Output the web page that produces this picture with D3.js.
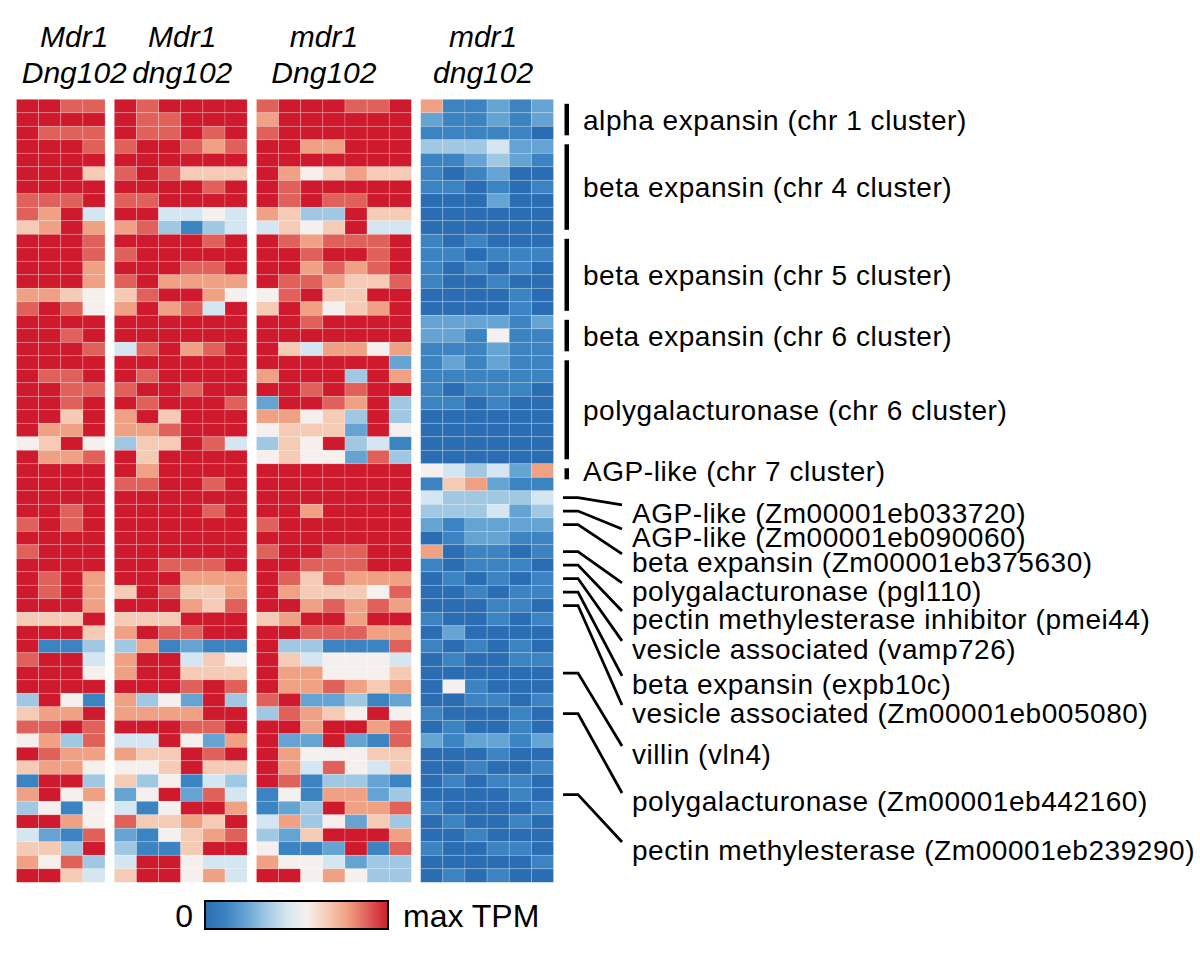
<!DOCTYPE html>
<html>
<head>
<meta charset="utf-8">
<script src="https://cdn.jsdelivr.net/npm/d3@7"></script>
<style>
  body { margin: 0; background: #fff; }
  svg text { font-family: "Liberation Sans", Arial, sans-serif; fill: #000; }
</style>
</head>
<body>
<div id="chart"></div>
<script>
// column group headers (genotype)
const groupTop = ["Mdr1", "Mdr1", "mdr1", "mdr1"];
const groupBottom = ["Dng102", "dng102", "Dng102", "dng102"];

// expression per cell, one string per gene row, one digit per replicate
// 0 = low (blue) ... 9 = max TPM (red)
const mdr1Dng102 = [
  "9988","9999","9888","9998","9999","9996","9999","8889","8794","6797",
  "9998","9998","9997","9997","7765","8985","9999","9989","9998","9999",
  "9889","9988","9989","9969","9779","5695","9778","9999","9999","9999",
  "9989","8989","9999","8999","9999","9897","9897","9997","6669","9996",
  "9113","8994","9995","9999","3951","6779","8898","5738","9877","6775",
  "1993","7957","3515","9975","4218","6639","7583","9964"
];
const mdr1dng102 = [
  "989999","988999","988989","899878","999999","898666","999989","889999","994454","783134",
  "999989","899999","999889","897777","689975","797849","999999","999999","489789","999999",
  "989999","899899","989998","796999","778999","366984","969999","979999","889989","999999",
  "999989","999999","999999","999999","998889","999777","698667","999768","666999","798899",
  "371211","799465","799666","999898","735293","777799","999889","449527","766989","556966",
  "635143","259284","415997","866769","215678","311699","499544","699574"
];
const mutDng102 = [
  "8999889","7999999","8999999","9977999","9999999","9756766","9899999","9898899","7633966","4656944",
  "9878889","9989989","9978789","9887668","5896699","6975679","9989999","9999999","9647757","9999992",
  "7999397","9989899","2998793","7756393","5666295","3659341","5655283","9999999","9999999","9999999",
  "9979999","8999999","9999999","8998899","9988899","9868777","9766658","9978787","6799799","9988877",
  "9331118","9645554","9775556","9778767","8922312","3876595","9979978","9229218","9755566","9748546",
  "9813321","1517723","1239778","4735263","3269997","5112918","7554233","9957533"
];
const mutdng102 = [
  "711212","211212","111110","333422","112321","101200","110101","000200","000000","000000",
  "101000","110111","101010","100100","000010","000010","222212","221511","111211","121211",
  "111111","101110","110100","000000","000000","000000","000000","543427","167211","433334",
  "333423","212222","012211","701101","101110","010101","001011","000110","100101","020000",
  "101010","010011","000000","051000","001101","100010","010010","212212","000100","001001",
  "010110","000010","100001","010010","001000","100110","000001","010100"
];

// gene clusters: name and first/last row
const clusterNames = [
  "alpha expansin (chr 1 cluster)", "beta expansin (chr 4 cluster)",
  "beta expansin (chr 5 cluster)", "beta expansin (chr 6 cluster)",
  "polygalacturonase (chr 6 cluster)", "AGP-like (chr 7 cluster)"
];
const clusterRows = [[0, 2], [3, 9], [10, 15], [16, 18], [19, 26], [27, 27]];

// single genes: name, the row they point at, where the label sits (in rows)
const geneNames = [
  "AGP-like (Zm00001eb033720)", "AGP-like (Zm00001eb090060)",
  "beta expansin (Zm00001eb375630)", "polygalacturonase (pgl110)",
  "pectin methylesterase inhibitor (pmei44)", "vesicle associated (vamp726)",
  "beta expansin (expb10c)", "vesicle associated (Zm00001eb005080)",
  "villin (vln4)", "polygalacturonase (Zm00001eb442160)",
  "pectin methylesterase (Zm00001eb239290)"
];
const geneRows = [29, 30, 31, 33, 34, 35, 36, 37, 42, 45, 51];
const geneLabelRows = [30.14, 31.92, 33.77, 35.92, 37.99, 40.21, 42.8, 44.96, 48.0, 51.48, 55.11];

const palette = ["#2b6db2","#3b83c1","#65a3d3","#a0c8e3","#d4e6f1",
                 "#f5f0ed","#f6cbb6","#f0a183","#e0605a","#cf1a2d"];

const width = 1200, height = 960;
const svg = d3.select("#chart").append("svg")
  .attr("width", width).attr("height", height);

const groups = [mdr1Dng102, mdr1dng102, mutDng102, mutdng102];
const nRows = groups[0].length;
const gapFrac = 0.42;

// column slot for each group start
let starts = [], off = 0;
groups.forEach(g => { starts.push(off); off += g[0].length + gapFrac; });
const totalSlots = off - gapFrac;

const x = d3.scaleLinear().domain([0, totalSlots]).range([16.5, 553.5]);
const y = d3.scaleLinear().domain([0, nRows]).range([99.3, 882.3]);
const color = d3.scaleLinear().domain(d3.range(10)).range(palette);
const cw = x(1) - x(0), ch = y(1) - y(0);

const cells = groups.flatMap((g, gi) =>
  g.flatMap((row, r) => row.split("").map((v, c) => ({gi, r, c, v: +v}))));

svg.append("g").selectAll("rect")
  .data(cells)
  .join("rect")
  .attr("x", d => x(starts[d.gi] + d.c))
  .attr("y", d => y(d.r))
  .attr("width", cw)
  .attr("height", ch)
  .attr("fill", d => color(d.v))
  .attr("stroke", "#fff")
  .attr("stroke-opacity", 0.3)
  .attr("stroke-width", 0.7);

// headers
const headerDx = [13.5, 1.5, -10, -4];
const head = svg.append("g")
  .style("font-family", "Lato, 'Open Sans', sans-serif")
  .style("font-style", "italic")
  .style("font-size", "30px");
groups.forEach((g, gi) => {
  const cx = (x(starts[gi]) + x(starts[gi] + g[0].length)) / 2 + headerDx[gi];
  head.append("text").attr("x", cx).attr("y", 47).attr("text-anchor", "middle").text(groupTop[gi]);
  head.append("text").attr("x", cx).attr("y", 83).attr("text-anchor", "middle").text(groupBottom[gi]);
});

// cluster bars and labels
const cl = svg.append("g").style("font-size", "28px").style("letter-spacing", "0.55px");
cl.selectAll("rect")
  .data(clusterRows)
  .join("rect")
  .attr("x", 564.5)
  .attr("width", 4.5)
  .attr("y", d => y(d[0]) + 4.5)
  .attr("height", d => Math.max(11, y(d[1] + 1) - y(d[0]) - 9))
  .attr("fill", "#000");
cl.selectAll("text")
  .data(clusterRows)
  .join("text")
  .attr("x", 583)
  .attr("y", d => y((d[0] + d[1] + 1) / 2) + 10)
  .text((d, i) => clusterNames[i]);

// single gene leaders
const gl = svg.append("g").style("font-size", "28px").style("letter-spacing", "0.55px");
gl.selectAll("path")
  .data(geneRows)
  .join("path")
  .attr("d", (r, i) => {
    const y0 = y(r + 0.5), y1 = y(geneLabelRows[i] + 0.5) - 8;
    return `M563,${y0}H578L622,${y1}`;
  })
  .attr("fill", "none")
  .attr("stroke", "#000")
  .attr("stroke-width", 2.8);
gl.selectAll("text")
  .data(geneNames)
  .join("text")
  .attr("x", 632)
  .attr("y", (d, i) => y(geneLabelRows[i] + 0.5) + 10)
  .text(d => d);

// colour key
const defs = svg.append("defs");
const grad = defs.append("linearGradient").attr("id", "key");
palette.forEach((c, i) => grad.append("stop")
  .attr("offset", (i / (palette.length - 1) * 100) + "%").attr("stop-color", c));
const keyX = d3.scaleLinear().domain([0, 9]).range([205, 388]);
svg.append("rect")
  .attr("x", keyX(0)).attr("y", 901)
  .attr("width", keyX(9) - keyX(0)).attr("height", 28)
  .attr("fill", "url(#key)")
  .attr("stroke", "#000").attr("stroke-width", 2);
const keyText = svg.append("g").style("font-family", "'Open Sans', sans-serif").style("font-size", "32px");
keyText.append("text").attr("x", keyX(0) - 12).attr("y", 927).attr("text-anchor", "end").text("0");
keyText.append("text").attr("x", keyX(9) + 15).attr("y", 927).text("max TPM");
</script>
</body>
</html>
